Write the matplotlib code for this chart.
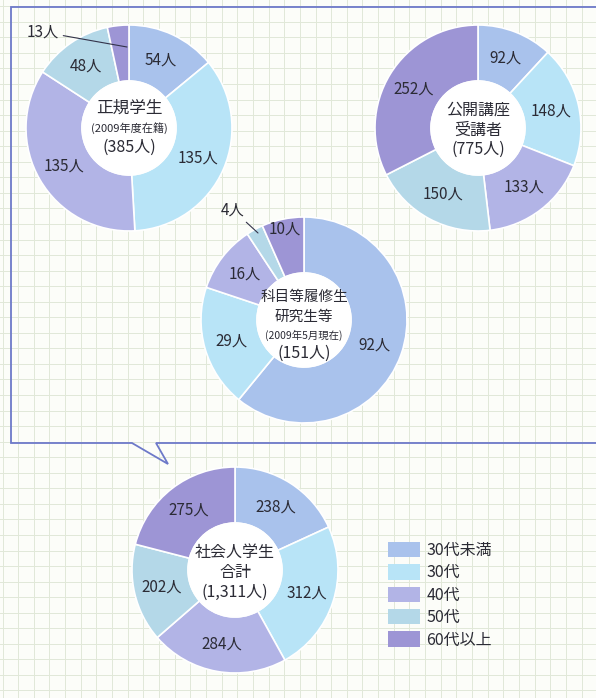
import numpy as np
import matplotlib
matplotlib.use("Agg")
import matplotlib.pyplot as plt
from matplotlib.patches import Patch

plt.rcParams['font.family'] = ['Noto Sans CJK JP', 'DejaVu Sans']

# age groups (legend order = wedge order, clockwise from 12 o'clock)
age_groups = ['30代未満', '30代', '40代', '50代', '60代以上']
colors = ['#a9c2ec', '#b8e4f7', '#b2b4e6', '#b4d8e8', '#9d95d5']

regular_students = [54, 135, 135, 48, 13]        # 正規学生
open_lecture = [92, 148, 133, 150, 252]          # 公開講座受講者
course_students = [92, 29, 16, 4, 10]            # 科目等履修生・研究生等
working_adults_total = [238, 312, 284, 202, 275]  # 社会人学生合計

W, H = 596, 698
R = 103
INNER = 47

fig = plt.figure(figsize=(W / 100, H / 100), dpi=100)
fig.patch.set_facecolor('#fcfdf9')
ax = fig.add_axes([0, 0, 1, 1])
ax.set_facecolor('#fcfdf9')

def Y(y):
    return H - y

# graph paper grid
for gx in np.arange(2.5, W, 15.65):
    ax.axvline(gx, color='#e1e8d8', lw=0.7, zorder=0)
for gy in np.arange(395 % 15.55, H, 15.55):
    ax.axhline(Y(gy), color='#e1e8d8', lw=0.7, zorder=0)

# speech-bubble frame
bx = [W + 5, 11, 11, 132, 168, 156, W + 5]
by = [7, 7, 443, 443, 464, 443, 443]
ax.plot(bx, [Y(v) for v in by], color='#6d79c9', lw=1.3, zorder=1,
        solid_joinstyle='miter')

txt_color = '#2b2b35'


def donut(values, cx, cy, skip=(), far=()):
    ax.pie(values, colors=colors, startangle=90, counterclock=False,
           center=(cx, Y(cy)), radius=R,
           wedgeprops=dict(width=R - INNER, edgecolor='white', linewidth=1.2),
           frame=True)
    ax.add_patch(plt.Circle((cx, Y(cy)), INNER, color='white', zorder=2))
    total = sum(values)
    start = 0
    for i, v in enumerate(values):
        mid = np.deg2rad(90 - (start + v / 2) / total * 360)
        start += v
        if i in skip:
            continue
        r = 0.9 * R if i in far else 0.73 * R
        ax.text(cx + r * np.cos(mid), Y(cy) + r * np.sin(mid), f'{v}人',
                ha='center', va='center', fontsize=11, color=txt_color,
                zorder=3)


def center_text(cx, cy, lines):
    for dy, s, fs in lines:
        ax.text(cx, Y(cy + dy), s, ha='center', va='center', fontsize=fs,
                color=txt_color, zorder=3)


# 正規学生
donut(regular_students, 129, 128, skip=(4,))
ax.annotate(f'{regular_students[4]}人', xy=(127, Y(47)), xytext=(43, Y(32)),
            ha='center', va='center', fontsize=11, color=txt_color,
            arrowprops=dict(arrowstyle='-', color='#33334a', lw=0.8,
                            shrinkA=1, shrinkB=0), zorder=3)
center_text(129, 128, [(-20, '正規学生', 12), (0, '(2009年度在籍)', 8),
                       (19, '(385人)', 11.5)])

# 公開講座受講者
donut(open_lecture, 478, 128)
center_text(478, 128, [(-18, '公開講座', 11.5), (2, '受講者', 11.5),
                       (21, '(775人)', 11.5)])

# 科目等履修生・研究生等
donut(course_students, 304, 320, skip=(3,), far=(4,))
ax.annotate(f'{course_students[3]}人', xy=(258, Y(233)), xytext=(233, Y(210)),
            ha='center', va='center', fontsize=11, color=txt_color,
            arrowprops=dict(arrowstyle='-', color='#33334a', lw=0.8,
                            shrinkA=1, shrinkB=0), zorder=3)
center_text(304, 320, [(-23, '科目等履修生', 10.5), (-3, '研究生等', 10.5),
                       (15, '(2009年5月現在)', 7.5), (33, '(151人)', 11.5)])

# 社会人学生合計
donut(working_adults_total, 235, 570)
center_text(235, 570, [(-18, '社会人学生', 11.5), (2, '合計', 11.5),
                       (22, '(1,311人)', 11.5)])

ax.set_xlim(0, W)
ax.set_ylim(0, H)
ax.set_aspect('equal')
ax.set_axis_off()

handles = [Patch(facecolor=c, edgecolor='none') for c in colors]
leg = ax.legend(handles, age_groups, loc='upper left',
                bbox_to_anchor=(388 / W, 1 - 542 / H), frameon=False,
                fontsize=11.5, handlelength=2.0, handleheight=1.1,
                handletextpad=0.4, labelspacing=0.33, borderpad=0,
                borderaxespad=0)
for t in leg.get_texts():
    t.set_color(txt_color)

fig.savefig('out.png', dpi=100, facecolor=fig.get_facecolor())
